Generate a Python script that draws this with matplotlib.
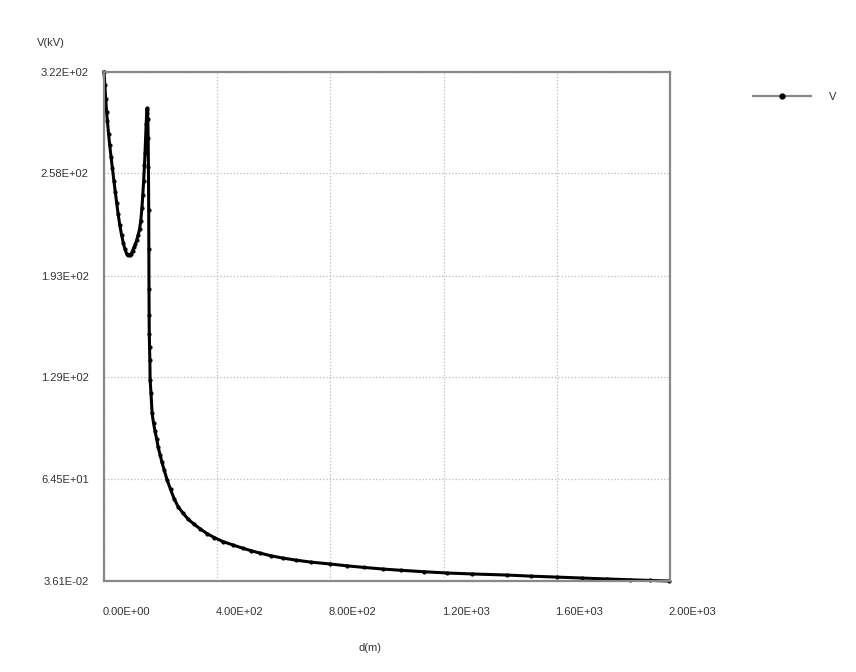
import matplotlib
matplotlib.use("Agg")
import matplotlib.pyplot as plt
import matplotlib.transforms as mtransforms

plt.rcParams['font.family'] = ['Liberation Sans', 'DejaVu Sans']

# distance (m) and voltage (kV)
d = [0, 3, 6, 9, 12, 16, 20, 25, 30, 35, 40, 45, 50, 56, 62, 68, 74, 80, 86,
     91, 96, 101, 106, 111, 116, 121, 126, 130, 134, 137, 140, 143, 145, 147,
     149, 151, 152, 153, 155, 156, 157, 158, 158.5, 159, 159.5, 160, 161, 162,
     163, 166, 170, 175, 180, 186, 191, 198, 205, 213, 223, 235, 248, 262,
     279, 298, 318, 340, 364, 390, 420, 456, 490, 520, 551, 590, 633, 680,
     730, 799, 860, 920, 986, 1050, 1130, 1212, 1300, 1424, 1510, 1601, 1690,
     1778, 1860, 1930, 1995]
v = [322, 314, 305, 297, 291, 283, 276, 268, 261, 253, 246, 239, 232, 225,
     219, 214, 210, 207, 206, 206, 207, 209, 211, 213, 216, 219, 223, 228,
     236, 244, 253, 263, 271, 280, 289, 296, 299, 298, 292, 280, 262, 235,
     210, 185, 168, 156, 148, 140, 127, 119, 106, 100, 95, 90, 85, 80, 75,
     70, 64, 58, 52, 47, 43, 39, 36, 33, 30, 27.5, 25, 22.8, 20.8, 19.2, 17.7,
     16, 14.5, 13.2, 12, 10.8, 9.6, 8.6, 7.6, 6.8, 5.9, 5.1, 4.5, 3.8, 3.1,
     2.5, 1.9, 1.3, 0.8, 0.4, 0.0361]

x_ticks = [0, 400, 800, 1200, 1600, 2000]
x_labels = ['0.00E+00', '4.00E+02', '8.00E+02', '1.20E+03', '1.60E+03', '2.00E+03']
y_ticks = [0.0361, 64.5, 129, 193, 258, 322]
y_labels = ['3.61E-02', '6.45E+01', '1.29E+02', '1.93E+02', '2.58E+02', '3.22E+02']

fig = plt.figure(figsize=(8.56, 6.72), dpi=100)
ax = fig.add_axes([104/856, 1 - 581/672, 566/856, 509/672])

ax.plot(d, v, '-', color='black', lw=2.2, marker='o', markersize=2,
        label='V', clip_on=False)

ax.set_xlim(0, 2000)
ax.set_ylim(0.0361, 322)
ax.set_xticks(x_ticks)
ax.set_xticklabels(x_labels)
ax.set_yticks(y_ticks)
ax.set_yticklabels(y_labels)
ax.tick_params(length=0, labelsize=8, labelcolor='#333333')
ax.tick_params(axis='x', pad=19)
ax.tick_params(axis='y', pad=11)

# x labels sit a bit right of their gridlines in the original
offset = mtransforms.ScaledTranslation(0.22, 0, fig.dpi_scale_trans)
for lab in ax.get_xticklabels():
    lab.set_transform(lab.get_transform() + offset)

ax.grid(True, color='#bbbbbb', linestyle=':', linewidth=0.9)
for s in ax.spines.values():
    s.set_color('#888888')
    s.set_linewidth(1.6)

fig.text(37/856, 1 - 43/672, 'V(kV)', fontsize=8, color='#333333', va='center')
fig.text(370/856, 1 - 648/672, 'd(m)', fontsize=8, color='#333333',
         ha='center', va='center')

leg = ax.legend(loc='center left', bbox_to_anchor=(753/856, 1 - 97/672),
                bbox_transform=fig.transFigure, frameon=False, fontsize=8,
                handlelength=5.2, handletextpad=1.6, borderpad=0,
                borderaxespad=0, numpoints=1)
leg.get_lines()[0].set_color('#888888')
leg.get_lines()[0].set_linewidth(1.6)
leg.get_lines()[0].set_markersize(3.5)
leg.get_lines()[0].set_markerfacecolor('black')
leg.get_lines()[0].set_markeredgecolor('black')
for t in leg.get_texts():
    t.set_color('#333333')

plt.savefig("out.png", dpi=100)
